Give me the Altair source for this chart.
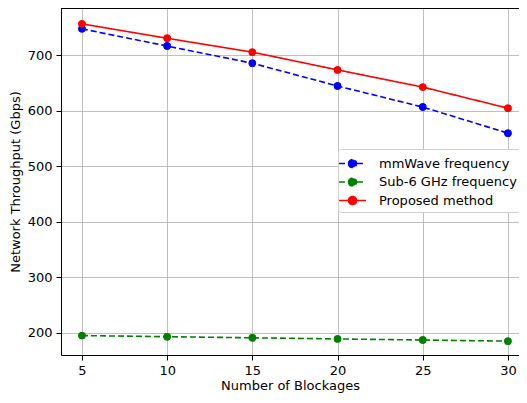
import altair as alt
import pandas as pd

blockages = [5, 10, 15, 20, 25, 30]
mmwave = [748, 717, 686, 645, 607, 560]
sub6 = [195, 193, 191, 189, 187, 185]
proposed = [757, 731, 706, 674, 643, 605]
series_names = ["mmWave frequency", "Sub-6 GHz frequency", "Proposed method"]
colors = ["#0000ff", "#008000", "#ff0000"]
dashes = [[6, 3], [6, 3], [1, 0]]

rows = []
for name, vals in zip(series_names, [mmwave, sub6, proposed]):
    for b, v in zip(blockages, vals):
        rows.append({"Blockages": b, "Throughput": v, "Series": name})
df = pd.DataFrame(rows)

FONT = "DejaVu Sans"
FS = 13
W, H = 458, 347
sym = "M-1.42,0H1.42M-0.42,0A0.42,0.42 0 1,1 0.42,0A0.42,0.42 0 1,1 -0.42,0Z"

legend = alt.Legend(title=None, orient="none", legendX=277, legendY=141,
                    symbolType=sym, symbolSize=361, symbolStrokeWidth=1.6,
                    labelFont=FONT, labelFontSize=FS, labelColor="black",
                    strokeColor="#d0d0d0", fillColor="white", padding=4,
                    cornerRadius=3, rowPadding=0.5, labelOffset=16,
                    symbolOpacity=1)

xscale = alt.Scale(domain=[3.77, 30.65], nice=False, zero=False)
x = alt.X("Blockages:Q", title="Number of Blockages", scale=xscale,
          axis=alt.Axis(values=blockages, format="d", grid=True, titlePadding=2,
                        labelPadding=4))
y = alt.Y("Throughput:Q", title="Network Throughput (Gbps)",
          scale=alt.Scale(domain=[160.0, 785.6], nice=False, zero=False),
          axis=alt.Axis(values=[200, 300, 400, 500, 600, 700], grid=True, titlePadding=5,
                        labelPadding=4))
color = alt.Color("Series:N", scale=alt.Scale(domain=series_names, range=colors),
                  legend=legend)
dash = alt.StrokeDash("Series:N", scale=alt.Scale(domain=series_names, range=dashes),
                      legend=legend)

lines = alt.Chart(df).mark_line(strokeWidth=1.6).encode(x=x, y=y, color=color, strokeDash=dash)
points = alt.Chart(df).mark_point(filled=True, size=55, opacity=1).encode(x=x, y=y, color=color)

# top spine
top = alt.Chart(pd.DataFrame({"k": [0]})).mark_rule(color="black", strokeWidth=1).encode(
    x=alt.value(0), x2=alt.value(W), y=alt.value(0.5)
)

chart = alt.layer(points, lines, points, top).properties(
    width=W, height=H,
    autosize=alt.AutoSizeParams(type="none"),
    padding={"left": 53, "top": 0, "right": 0, "bottom": 40},
).configure_axis(
    labelFont=FONT, titleFont=FONT, labelFontSize=FS, titleFontSize=FS,
    titleFontWeight="normal", labelColor="black", titleColor="black",
    domainColor="black", tickColor="black", gridColor="#b0b0b0", gridWidth=0.8,
    tickSize=5,
).configure_view(stroke=None)

chart.save("out.html", embed_options={"renderer": "svg", "actions": False})
